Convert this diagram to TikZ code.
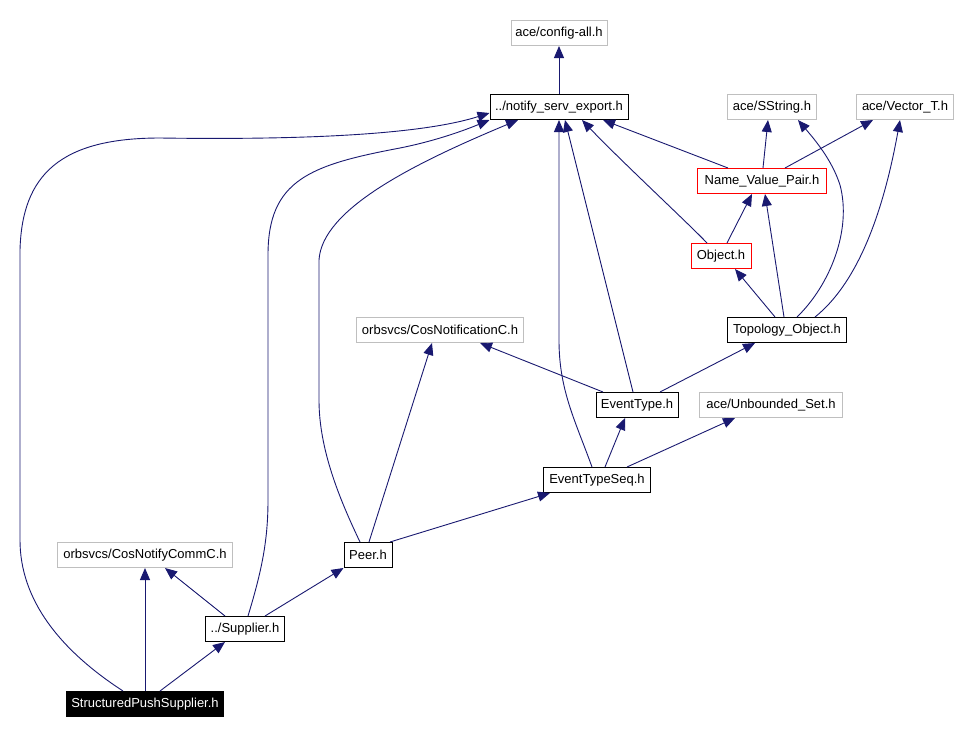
\documentclass[tikz,border=0pt]{standalone}
\usepackage{fontspec}
\setmainfont{Liberation Sans}
\usepackage{tikz}
\usetikzlibrary{arrows.meta}
\definecolor{edgeblue}{RGB}{25,25,112}
\definecolor{extgray}{RGB}{191,191,191}

\begin{document}
\begin{tikzpicture}[
    x=1pt, y=-1pt,
    file/.style={rectangle, draw=black, line width=1pt, inner sep=0pt, minimum height=25pt, font=\fontsize{13}{15}\selectfont},
    extfile/.style={file, draw=extgray},
    redfile/.style={file, draw=red},
    mainfile/.style={file, fill=black, text=white},
    inc/.style={-{Triangle[length=12pt,width=10pt,fill=edgeblue]}, draw=edgeblue, line width=0.9pt}
]
\useasboundingbox (0,0) rectangle (959,734);

\node[extfile, minimum width=96pt] (cfgall) at (559,33) {ace/config-all.h};
\node[file, minimum width=138pt] (notify) at (559,107) {../notify\_serv\_export.h};
\node[extfile, minimum width=89pt] (sstring) at (772,107) {ace/SString.h};
\node[extfile, minimum width=97pt] (vectort) at (905,107) {ace/Vector\_T.h};
\node[redfile, minimum width=129pt] (nvp) at (762,181) {Name\_Value\_Pair.h};
\node[redfile, minimum width=60pt] (object) at (721,256) {Object.h};
\node[file, minimum width=119pt] (topo) at (787,330) {Topology\_Object.h};
\node[extfile, minimum width=167pt] (cosnotif) at (440,330) {orbsvcs/CosNotificationC.h};
\node[file, minimum width=82pt] (evtype) at (637,405) {EventType.h};
\node[extfile, minimum width=143pt] (unbset) at (771,405) {ace/Unbounded\_Set.h};
\node[file, minimum width=107pt] (evseq) at (597,480) {EventTypeSeq.h};
\node[extfile, minimum width=175pt] (commc) at (145,555) {orbsvcs/CosNotifyCommC.h};
\node[file, minimum width=48pt] (peer) at (368,555) {Peer.h};
\node[file, minimum width=79pt] (supplier) at (245,629) {../Supplier.h};
\node[mainfile, minimum width=157pt] (sps) at (145,704) {StructuredPushSupplier.h};

% notify_serv_export / Name_Value_Pair / Object / Topology_Object
\draw[inc] (notify) -- (cfgall);
\draw[inc] ([xshift=-34pt]nvp.north) -- ([xshift=44pt]notify.south);
\draw[inc] ([xshift=1pt]nvp.north) -- ([xshift=-4pt]sstring.south);
\draw[inc] ([xshift=23pt]nvp.north) -- ([xshift=-32pt]vectort.south);
\draw[inc] ([xshift=-14pt]object.north) .. controls (690,225) and (620,160) .. ([xshift=23pt]notify.south);
\draw[inc] ([xshift=6pt]object.north) -- ([xshift=-10pt]nvp.south);
\draw[inc] ([xshift=-12pt]topo.north) -- ([xshift=14pt]object.south);
\draw[inc] ([xshift=-3pt]topo.north) -- ([xshift=3pt]nvp.south);
\draw[inc] ([xshift=10pt]topo.north) .. controls (830,285) and (852,230) .. (840,185) .. controls (832,160) and (815,140) .. ([xshift=26pt]sstring.south);
\draw[inc] ([xshift=28pt]topo.north) .. controls (855,285) and (882,220) .. ([xshift=-5pt]vectort.south);

% EventType / EventTypeSeq
\draw[inc] ([xshift=-34pt]evtype.north) -- ([xshift=40pt]cosnotif.south);
\draw[inc] ([xshift=-4pt]evtype.north) .. controls (615,320) and (590,220) .. ([xshift=6pt]notify.south);
\draw[inc] ([xshift=23pt]evtype.north) -- ([xshift=-32pt]topo.south);
\draw[inc] ([xshift=-5pt]evseq.north) .. controls (575,420) and (559,390) .. (559,340) -- (notify.south);
\draw[inc] ([xshift=8pt]evseq.north) -- ([xshift=-12pt]evtype.south);
\draw[inc] ([xshift=30pt]evseq.north) -- ([xshift=-36pt]unbset.south);

% Peer / Supplier
\draw[inc] ([xshift=-8pt]peer.north) .. controls (340,500) and (319,450) .. (319,400) -- (319,260) .. controls (322,210) and (410,165) .. ([xshift=-41pt]notify.south);
\draw[inc] ([xshift=1pt]peer.north) -- ([xshift=-8pt]cosnotif.south);
\draw[inc] ([xshift=22pt]peer.north) -- ([xshift=-47pt]evseq.south);
\draw[inc] ([xshift=-20pt]supplier.north) -- ([xshift=20pt]commc.south);
\draw[inc] ([xshift=3pt]supplier.north) .. controls (262,570) and (268,540) .. (268,500) -- (268,255) .. controls (268,180) and (310,165) .. (400,148) .. controls (440,140) and (470,128) .. (notify.south west);
\draw[inc] ([xshift=20pt]supplier.north) -- (peer.south west);

% StructuredPushSupplier
\draw[inc] ([xshift=-22pt]sps.north) .. controls (60,650) and (20,600) .. (20,540) -- (20,250) .. controls (22,175) and (60,138) .. (160,138) .. controls (300,140) and (420,135) .. ([yshift=-6pt]notify.west);
\draw[inc] (sps) -- (commc);
\draw[inc] ([xshift=15pt]sps.north) -- ([xshift=-20pt]supplier.south);
\end{tikzpicture}
\end{document}
